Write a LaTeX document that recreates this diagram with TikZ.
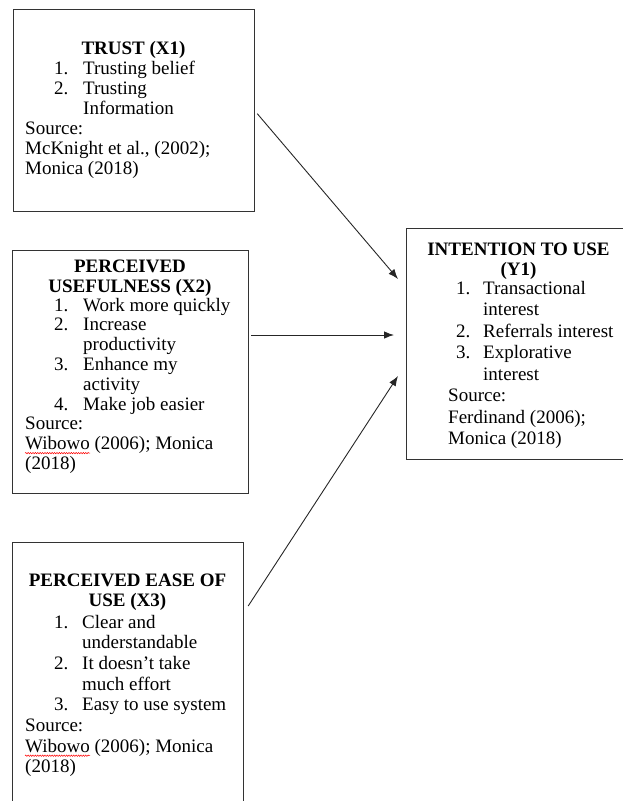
\documentclass[tikz,border=0pt]{standalone}
\usepackage{fontspec}
\setmainfont{Liberation Serif}
\usetikzlibrary{arrows.meta,calc,decorations.pathmorphing}

\newcommand{\srcline}[1]{\multicolumn{3}{@{}l@{}}{#1}}

\begin{document}
\begin{tikzpicture}[x=1pt,y=-1pt,
    box/.style={draw=black!80, line width=1.2pt, inner sep=0pt, anchor=north west},
    ttl/.style={inner sep=0pt, anchor=base, font=\fontsize{19}{20}\selectfont\bfseries},
    lst/.style={inner sep=0pt, anchor=base west, font=\fontsize{19}{#1}\selectfont},
    lst/.default=20.3,
    wave/.style={red, line width=0.5pt, decorate, decoration={snake, amplitude=0.7pt, segment length=2.4pt}},
    arr/.style={-{Latex[length=10pt,width=7.5pt]}, line width=0.9pt, draw=black!85}]

      \useasboundingbox (0,0) rectangle (623,801);
      \clip (0,0) rectangle (623,801);

      % draw boxes
      \node[box, minimum width=241pt, minimum height=202pt] (trust) at (13,9) {};
      \node[box, minimum width=236pt, minimum height=243pt] (useful) at (12,250) {};
      \node[box, minimum width=231pt, minimum height=300pt] (ease) at (12,542) {};
      \node[box, minimum width=230pt, minimum height=231pt] (intent) at (406,228) {};

      % trust
      \node[ttl] (trustttl) at (133.5,54) {TRUST (X1)};
      \node[lst=20] (trustlst) at (25,74) {\begin{tabular}[t]{@{}p{29pt}@{}p{29pt}@{}l@{}}
          & 1. & Trusting belief\\
          & 2. & Trusting\\
          &    & Information\\
          \srcline{Source:}\\
          \srcline{McKnight et al., (2002);}\\
          \srcline{Monica (2018)}
        \end{tabular}};

      % perceived usefulness
      \node[ttl] (usefulttl) at (130,272) {\begin{tabular}[t]{@{}c@{}}PERCEIVED\\ USEFULNESS (X2)\end{tabular}};
      \node[lst=19.8] (usefullst) at (25,311) {\begin{tabular}[t]{@{}p{29pt}@{}p{29pt}@{}l@{}}
          & 1. & Work more quickly\\
          & 2. & Increase\\
          &    & productivity\\
          & 3. & Enhance my\\
          &    & activity\\
          & 4. & Make job easier\\
          \srcline{Source:}\\
          \srcline{Wibowo (2006); Monica}\\
          \srcline{(2018)}
        \end{tabular}};

      % perceived ease of use
      \node[ttl] (easettl) at (127.5,586) {\begin{tabular}[t]{@{}c@{}}PERCEIVED EASE OF\\ USE (X3)\end{tabular}};
      \node[lst=20.7] (easelst) at (25,628) {\begin{tabular}[t]{@{}p{29pt}@{}p{28pt}@{}l@{}}
          & 1. & Clear and\\
          &    & understandable\\
          & 2. & It doesn't take\\
          &    & much effort\\
          & 3. & Easy to use system\\
          \srcline{Source:}\\
          \srcline{Wibowo (2006); Monica}\\
          \srcline{(2018)}
        \end{tabular}};

      % intention to use
      \node[ttl] (intentttl) at (518.5,255) {\begin{tabular}[t]{@{}c@{}}INTENTION TO USE\\ (Y1)\end{tabular}};
      \node[lst=21.5] (intentlst) at (448,294) {\begin{tabular}[t]{@{}p{8pt}@{}p{27pt}@{}l@{}}
          & 1. & Transactional\\
          &    & interest\\
          & 2. & Referrals interest\\
          & 3. & Explorative\\
          &    & interest\\
          \srcline{Source:}\\
          \srcline{Ferdinand (2006);}\\
          \srcline{Monica (2018)}
        \end{tabular}};

      % spell-check marks under Wibowo
      \draw[wave] ($(usefullst.base west)+(0,7*19.8+3.5)$) -- ++(65,0);
      \draw[wave] ($(easelst.base west)+(0,6*20.7+3.5)$) -- ++(65,0);

      % arrows
      \coordinate (tip1) at (398,279);
      \coordinate (tip2) at (394,335);
      \coordinate (tip3) at (398,376);
      \draw[arr] ([shift={(2,3)}]trust.east) -- (tip1);
      \draw[arr] ($(useful.east |- tip2)+(2,0)$) -- (tip2);
      \draw[arr] ([shift={(4,64)}]ease.north east) -- (tip3);

\end{tikzpicture}
\end{document}
